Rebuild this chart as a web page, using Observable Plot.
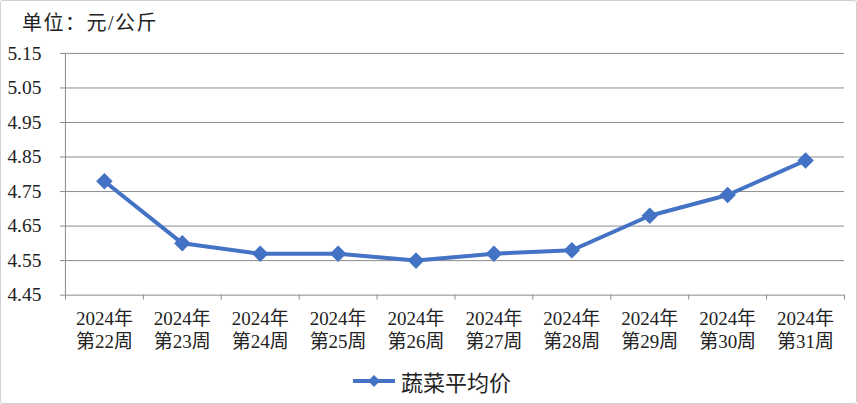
<!DOCTYPE html>
<html>
<head>
<meta charset="utf-8">
<script src="https://cdn.jsdelivr.net/npm/d3@7"></script>
<script src="https://cdn.jsdelivr.net/npm/@observablehq/plot@0.6"></script>
<style>
  html, body { margin: 0; padding: 0; background: #fff; }
  #wrap { position: relative; width: 857px; height: 404px; box-sizing: border-box;
          border: 1px solid #d0d0d0; border-radius: 3px; overflow: hidden;
          font-family: "Liberation Serif", "Noto Sans CJK SC", serif; }
  #title { position: absolute; left: 21px; top: 6px; font-size: 20px; letter-spacing: 1.5px; color: #222; }
  #chart { position: absolute; left: -1px; top: -1px; }
  #legend { position: absolute; left: 351px; top: 364px; display: flex; align-items: center;
            font-size: 22px; color: #222; }
  #legend span { margin-left: 5px; }
</style>
</head>
<body>
<div id="wrap">
  <div id="title">单位：元/公斤</div>
  <div id="chart"></div>
  <div id="legend"></div>
</div>
<script>
const years = ["2024年","2024年","2024年","2024年","2024年","2024年","2024年","2024年","2024年","2024年"];
const weeks = ["第22周","第23周","第24周","第25周","第26周","第27周","第28周","第29周","第30周","第31周"];
const prices = [4.78, 4.60, 4.57, 4.57, 4.55, 4.57, 4.58, 4.68, 4.74, 4.84];
const yTicks = [4.45, 4.55, 4.65, 4.75, 4.85, 4.95, 5.05, 5.15];
const seriesName = "蔬菜平均价";

const blue = "#4472C4";
const grid = "#8c8c8c";
const data = prices.map((v, i) => ({i: i + 0.5, v, label: years[i] + "\n" + weeks[i]}));

const chart = Plot.plot({
  width: 857,
  height: 362,
  marginLeft: 65,
  marginRight: 12,
  marginTop: 53,
  marginBottom: 67,
  style: {fontFamily: '"Liberation Serif", "Noto Sans CJK SC", serif', fontSize: "18px", color: "#222", background: "transparent"},
  x: {type: "linear", domain: [0, prices.length], label: null},
  y: {type: "linear", domain: [4.45, 5.15], label: null},
  marks: [
    Plot.ruleY(yTicks, {stroke: grid, strokeOpacity: 1, strokeWidth: 1}),
    Plot.axisY({ticks: yTicks, tickSize: 5, tickPadding: 19, stroke: grid, strokeOpacity: 1, tickFormat: d3.format(".2f"), fontSize: 19.5, fill: "#222", label: null}),
    Plot.axisX({ticks: d3.range(0, prices.length + 1), tickSize: 5, tickFormat: () => "", stroke: grid, strokeOpacity: 1, label: null}),
    Plot.ruleX([0], {y1: 4.45, y2: 5.15, stroke: grid}),
    Plot.text(data, {x: "i", y: 4.45, text: "label", dy: 34, lineHeight: 1.22, lineAnchor: "middle", fontSize: 19, fill: "#222"}),
    Plot.line(data, {x: "i", y: "v", stroke: blue, strokeWidth: 4, strokeLinejoin: "round"}),
    Plot.dot(data, {x: "i", y: "v", symbol: "diamond2", r: 6.5, fill: blue, stroke: blue})
  ]
});
document.getElementById("chart").appendChild(chart);

const leg = document.getElementById("legend");
leg.innerHTML = `<svg width="44" height="28"><line x1="1" x2="43" y1="14" y2="14" stroke="${blue}" stroke-width="4"/><path d="M22,8L28,14L22,20L16,14Z" fill="${blue}"/></svg><span>${seriesName}</span>`;
</script>
</body>
</html>
